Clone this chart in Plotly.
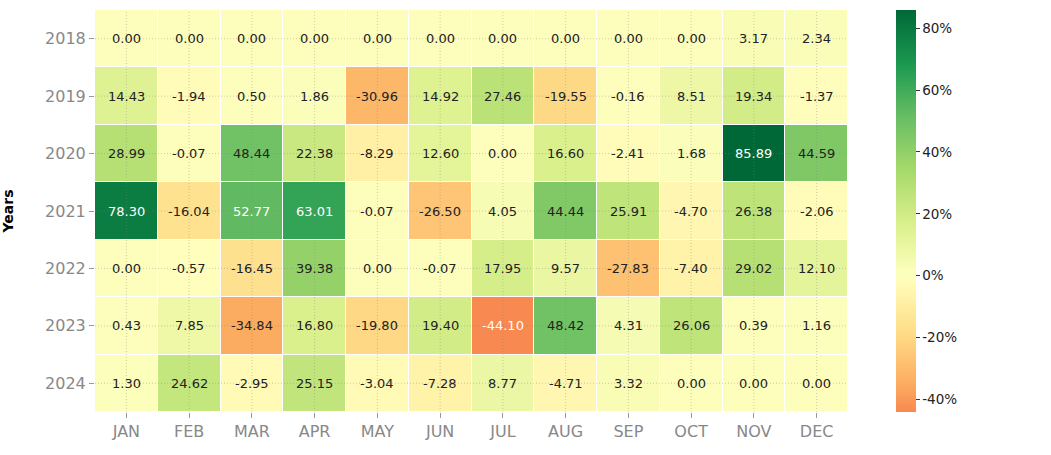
import plotly.graph_objects as go

months = ["JAN", "FEB", "MAR", "APR", "MAY", "JUN", "JUL", "AUG", "SEP", "OCT", "NOV", "DEC"]
years = ["2018", "2019", "2020", "2021", "2022", "2023", "2024"]

r2018 = [0.00, 0.00, 0.00, 0.00, 0.00, 0.00, 0.00, 0.00, 0.00, 0.00, 3.17, 2.34]
r2019 = [14.43, -1.94, 0.50, 1.86, -30.96, 14.92, 27.46, -19.55, -0.16, 8.51, 19.34, -1.37]
r2020 = [28.99, -0.07, 48.44, 22.38, -8.29, 12.60, 0.00, 16.60, -2.41, 1.68, 85.89, 44.59]
r2021 = [78.30, -16.04, 52.77, 63.01, -0.07, -26.50, 4.05, 44.44, 25.91, -4.70, 26.38, -2.06]
r2022 = [0.00, -0.57, -16.45, 39.38, 0.00, -0.07, 17.95, 9.57, -27.83, -7.40, 29.02, 12.10]
r2023 = [0.43, 7.85, -34.84, 16.80, -19.80, 19.40, -44.10, 48.42, 4.31, 26.06, 0.39, 1.16]
r2024 = [1.30, 24.62, -2.95, 25.15, -3.04, -7.28, 8.77, -4.71, 3.32, 0.00, 0.00, 0.00]
z = [r2018, r2019, r2020, r2021, r2022, r2023, r2024]

cbar_ticks = [-40, -20, 0, 20, 40, 60, 80]

# RdYlGn (matplotlib) anchors
rdylgn = [
    (165, 0, 38), (215, 48, 39), (244, 109, 67), (253, 174, 97), (254, 224, 139),
    (255, 255, 191), (217, 239, 139), (166, 217, 106), (102, 189, 99), (26, 152, 80), (0, 104, 55),
]

def cmap(t):
    t = min(max(t, 0.0), 1.0)
    pos = t * 10
    i = min(int(pos), 9)
    f = pos - i
    a, b = rdylgn[i], rdylgn[i + 1]
    return tuple(a[k] + (b[k] - a[k]) * f for k in range(3))

flat = [v for row in z for v in row]
zmin, zmax = min(flat), max(flat)
rng = max(abs(zmin), abs(zmax))  # seaborn center=0 behaviour

def t_of(v):
    return (v + rng) / (2 * rng)

n = 60
colorscale = []
for i in range(n + 1):
    p = i / n
    v = zmin + p * (zmax - zmin)
    c = cmap(t_of(v))
    colorscale.append([p, "rgb(%d,%d,%d)" % tuple(round(x) for x in c)])

def lum(c):
    def ch(x):
        x = x / 255
        return x / 12.92 if x <= 0.03928 else ((x + 0.055) / 1.055) ** 2.4
    r, g, b = (ch(x) for x in c)
    return 0.2126 * r + 0.7152 * g + 0.0722 * b

xi_idx = list(range(len(months)))
yi_idx = list(range(len(years)))

fig = go.Figure()
fig.add_trace(go.Heatmap(
    z=z, x=xi_idx, y=yi_idx,
    zmin=zmin, zmax=zmax,
    colorscale=colorscale,
    xgap=1, ygap=1,
    hoverinfo="skip",
    colorbar=dict(
        x=1.064, xanchor="left", xref="paper", xpad=0, ypad=0,
        y=0.5, yanchor="middle", len=1.0, lenmode="fraction",
        thickness=20, outlinewidth=0,
        tickvals=cbar_ticks, ticktext=["%d%%" % t for t in cbar_ticks],
        ticks="outside", ticklen=4, tickcolor="#333333",
        tickfont=dict(family="DejaVu Sans", size=13.5, color="#222222"),
    ),
))

annotations = []
for yi in yi_idx:
    for xi in xi_idx:
        v = z[yi][xi]
        col = "white" if lum(cmap(t_of(v))) < 0.408 else "#222222"
        annotations.append(dict(
            x=xi, y=yi, xref="x", yref="y", text="%.2f" % v, showarrow=False,
            font=dict(family="DejaVu Sans", size=13, color=col),
        ))

grid_line = dict(color="rgba(130,130,130,0.55)", width=0.7, dash="1px,2px")
shapes = []
for xi in xi_idx:
    shapes.append(dict(type="line", xref="x", yref="paper", x0=xi, x1=xi, y0=0, y1=1,
                       line=grid_line, layer="above"))
for yi in yi_idx:
    shapes.append(dict(type="line", xref="paper", yref="y", x0=0, x1=1, y0=yi, y1=yi,
                       line=grid_line, layer="above"))

fig.update_layout(
    width=1051, height=455,
    margin=dict(l=95, r=203, t=10, b=43),
    paper_bgcolor="white", plot_bgcolor="white",
    font=dict(family="DejaVu Sans"),
    annotations=annotations,
    shapes=shapes,
    xaxis=dict(
        range=[-0.5, len(months) - 0.5], automargin=False,
        tickmode="array", tickvals=xi_idx, ticktext=months,
        showgrid=False, zeroline=False,
        ticks="outside", ticklen=5, tickcolor="#999999",
        tickfont=dict(size=16, color="#888888"),
    ),
    yaxis=dict(
        range=[len(years) - 0.5, -0.5], automargin=False,
        tickmode="array", tickvals=yi_idx, ticktext=years,
        showgrid=False, zeroline=False,
        ticks="outside", ticklen=5, tickcolor="#999999",
        tickfont=dict(size=16, color="#888888"),
        title=dict(text="<b>Years</b>", font=dict(size=14, color="black"), standoff=30),
    ),
)

fig.write_html("out.html")
